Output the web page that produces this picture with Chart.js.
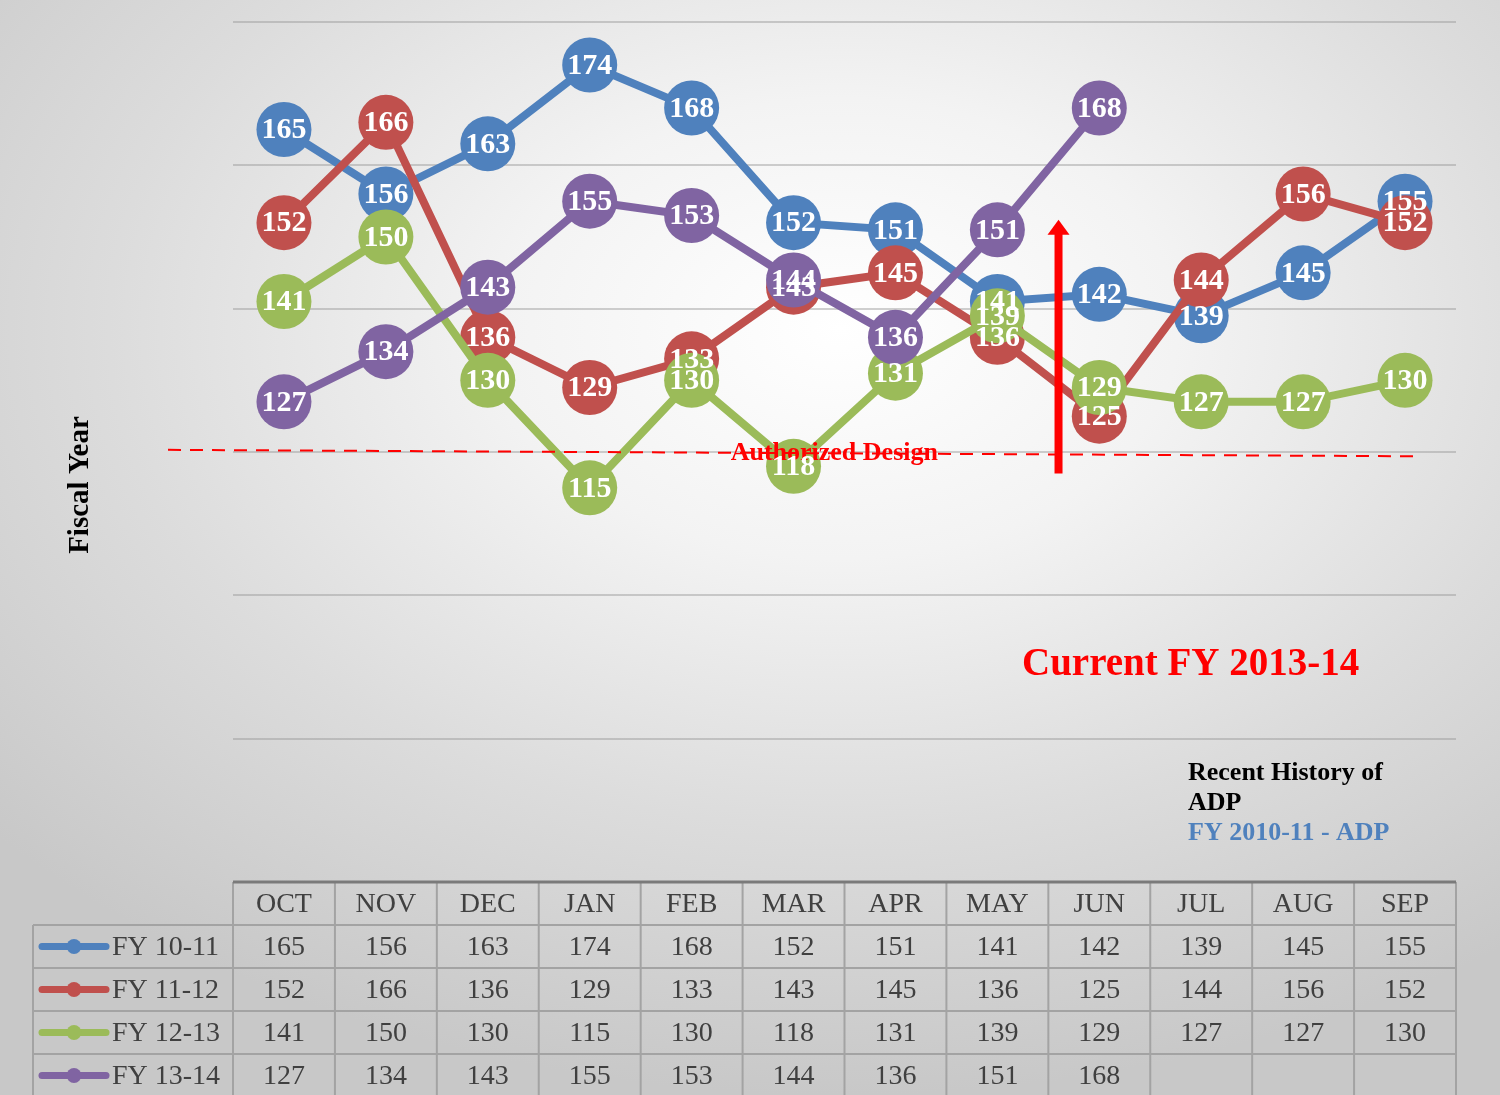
<!DOCTYPE html>
<html>
<head>
<meta charset="utf-8">
<script src="https://cdn.jsdelivr.net/npm/chart.js@4/dist/chart.umd.min.js"></script>
<style>
    html, body { margin: 0; padding: 0; }
    body {
        width: 1500px;
        height: 1095px;
        overflow: hidden;
        background: radial-gradient(ellipse 75% 70% at 56% 30%, #ffffff 0%, #f3f3f3 30%, #dcdcdc 65%, #c8c8c8 100%);
    }
    canvas { display: block; }
</style>
</head>
<body>
<canvas id="chart-adp" width="1500" height="1095"></canvas>
<script>
// Recent history of ADP by fiscal year
const months = ['OCT', 'NOV', 'DEC', 'JAN', 'FEB', 'MAR', 'APR', 'MAY', 'JUN', 'JUL', 'AUG', 'SEP'];
const seriesNames = ['FY 10-11', 'FY 11-12', 'FY 12-13', 'FY 13-14'];
const fy1011 = [165, 156, 163, 174, 168, 152, 151, 141, 142, 139, 145, 155];
const fy1112 = [152, 166, 136, 129, 133, 143, 145, 136, 125, 144, 156, 152];
const fy1213 = [141, 150, 130, 115, 130, 118, 131, 139, 129, 127, 127, 130];
const fy1314 = [127, 134, 143, 155, 153, 144, 136, 151, 168, null, null, null];
const seriesColors = ['#4f81bd', '#c0504d', '#9bbb59', '#8064a2'];
const yTicks = [60, 80, 100, 120, 140, 160, 180];

// annotation values (in data units)
const authorizedDesign = [120.3, 119.4];   // dashed line, left end / right end
const currentArrow = { at: 7.6, from: 117, to: 152.4 };

const SERIF = '"Liberation Serif", "Times New Roman", serif';
const allSeries = [fy1011, fy1112, fy1213, fy1314];

const labelPlugin = {
    id: 'pointLabels',
    afterDatasetsDraw(chart) {
        const { ctx, chartArea, scales: { x, y } } = chart;
        ctx.save();

        // authorized design dashed line
        const yl = y.getPixelForValue(authorizedDesign[0]);
        const yr = y.getPixelForValue(authorizedDesign[1]);
        ctx.strokeStyle = '#ff0000';
        ctx.lineWidth = 2;
        ctx.setLineDash([13, 9]);
        ctx.beginPath();
        ctx.moveTo(chartArea.left - 65, yl);
        ctx.lineTo(x.getPixelForValue(11) + 14, yr);
        ctx.stroke();
        ctx.setLineDash([]);

        ctx.fillStyle = '#ff0000';
        ctx.font = `bold 26px ${SERIF}`;
        ctx.textAlign = 'center';
        ctx.textBaseline = 'middle';
        ctx.fillText('Authorized Design', x.getPixelForValue(5.4), y.getPixelForValue(119.8));

        // current FY arrow
        const ax = x.getPixelForValue(currentArrow.at);
        const aTop = y.getPixelForValue(currentArrow.to);
        const aBot = y.getPixelForValue(currentArrow.from);
        ctx.fillRect(ax - 4, aTop + 14, 8, aBot - aTop - 14);
        ctx.beginPath();
        ctx.moveTo(ax, aTop);
        ctx.lineTo(ax + 11, aTop + 15);
        ctx.lineTo(ax - 11, aTop + 15);
        ctx.closePath();
        ctx.fill();

        // value labels inside the markers
        ctx.fillStyle = '#ffffff';
        ctx.font = `bold 30px ${SERIF}`;
        chart.data.datasets.forEach((ds, di) => {
            const meta = chart.getDatasetMeta(di);
            meta.data.forEach((pt, i) => {
                if (ds.data[i] == null) return;
                ctx.fillText(String(ds.data[i]), pt.x, pt.y + 1);
            });
        });
        ctx.restore();
    },
    afterDraw(chart) {
        const { ctx, chartArea, scales: { x } } = chart;
        const colW = chartArea.width / months.length;
        const top = chartArea.bottom;
        const headH = 43;
        const rowH = 43;
        const legendLeft = 33;
        ctx.save();

        // grid of the data table
        ctx.strokeStyle = '#a3a3a3';
        ctx.lineWidth = 2;
        for (let i = 0; i <= months.length; i++) {
            const gx = chartArea.left + i * colW;
            ctx.beginPath();
            ctx.moveTo(gx, top);
            ctx.lineTo(gx, top + headH + rowH * seriesNames.length);
            ctx.stroke();
        }
        ctx.beginPath();
        ctx.moveTo(legendLeft, top + headH);
        ctx.lineTo(legendLeft, top + headH + rowH * seriesNames.length);
        ctx.stroke();
        for (let r = 0; r <= seriesNames.length; r++) {
            const gy = top + headH + r * rowH;
            ctx.beginPath();
            ctx.moveTo(legendLeft, gy);
            ctx.lineTo(chartArea.right, gy);
            ctx.stroke();
        }
        ctx.strokeStyle = '#7a7a7a';
        ctx.lineWidth = 3;
        ctx.beginPath();
        ctx.moveTo(chartArea.left, top);
        ctx.lineTo(chartArea.right, top);
        ctx.stroke();

        // header and values
        ctx.fillStyle = '#404040';
        ctx.font = `28px ${SERIF}`;
        ctx.textAlign = 'center';
        ctx.textBaseline = 'middle';
        months.forEach((m, i) => ctx.fillText(m, x.getPixelForValue(i), top + headH / 2 + 1));
        allSeries.forEach((vals, r) => {
            const cy = top + headH + r * rowH + rowH / 2 + 1;
            vals.forEach((v, i) => {
                if (v == null) return;
                ctx.fillText(String(v), x.getPixelForValue(i), cy);
            });
            // legend key
            ctx.strokeStyle = seriesColors[r];
            ctx.lineWidth = 7;
            ctx.lineCap = 'round';
            ctx.beginPath();
            ctx.moveTo(42, cy - 1);
            ctx.lineTo(106, cy - 1);
            ctx.stroke();
            ctx.beginPath();
            ctx.fillStyle = seriesColors[r];
            ctx.arc(74, cy - 1, 7.5, 0, Math.PI * 2);
            ctx.fill();
            ctx.fillStyle = '#404040';
            ctx.textAlign = 'left';
            ctx.fillText(seriesNames[r], 112, cy);
            ctx.textAlign = 'center';
        });

        // free text
        ctx.fillStyle = '#ff0000';
        ctx.font = `bold 39px ${SERIF}`;
        ctx.textAlign = 'left';
        ctx.fillText('Current FY 2013-14', 1022, 665);

        ctx.fillStyle = '#000000';
        ctx.font = `bold 26px ${SERIF}`;
        ctx.fillText('Recent History of', 1188, 773);
        ctx.fillText('ADP', 1188, 803);
        ctx.fillStyle = '#4f81bd';
        ctx.fillText('FY 2010-11 - ADP', 1188, 833);

        ctx.fillStyle = '#000000';
        ctx.font = `bold 29px ${SERIF}`;
        ctx.translate(81, 485);
        ctx.rotate(-Math.PI / 2);
        ctx.textAlign = 'center';
        ctx.fillText('Fiscal Year', 0, 0);
        ctx.restore();
    },
};

function createAdpChart() {
    try {
        const canvas = document.getElementById('chart-adp');
        const ctx = canvas.getContext('2d');

        new Chart(ctx, {
            type: 'line',
            data: {
                labels: months,
                datasets: allSeries.map((vals, i) => ({
                    label: seriesNames[i],
                    data: vals,
                    borderColor: seriesColors[i],
                    backgroundColor: seriesColors[i],
                    pointBackgroundColor: seriesColors[i],
                    pointBorderWidth: 0,
                    pointRadius: 27.5,
                    pointHoverRadius: 27.5,
                    borderWidth: 8,
                    tension: 0,
                    spanGaps: false,
                    clip: false,
                    order: seriesNames.length - i,
                })),
            },
            options: {
                responsive: false,
                animation: false,
                devicePixelRatio: 1,
                layout: {
                    autoPadding: false,
                    padding: { left: 233, right: 44, top: 22, bottom: 213 },
                },
                scales: {
                    x: { display: false, offset: true },
                    y: {
                        min: yTicks[0],
                        max: yTicks[yTicks.length - 1],
                        afterBuildTicks: scale => { scale.ticks = yTicks.map(v => ({ value: v })); },
                        afterFit: scale => { scale.width = 0; },
                        ticks: { display: false, padding: 0 },
                        border: { display: false },
                        grid: { color: 'rgba(150,150,150,0.45)', lineWidth: 2, drawTicks: false },
                    },
                },
                plugins: {
                    legend: { display: false },
                    tooltip: { enabled: false },
                },
            },
            plugins: [labelPlugin],
        });
    } catch (err) {
        console.error('[ADP-CHART] FAILED:', err);
    }
}

createAdpChart();
</script>
</body>
</html>
